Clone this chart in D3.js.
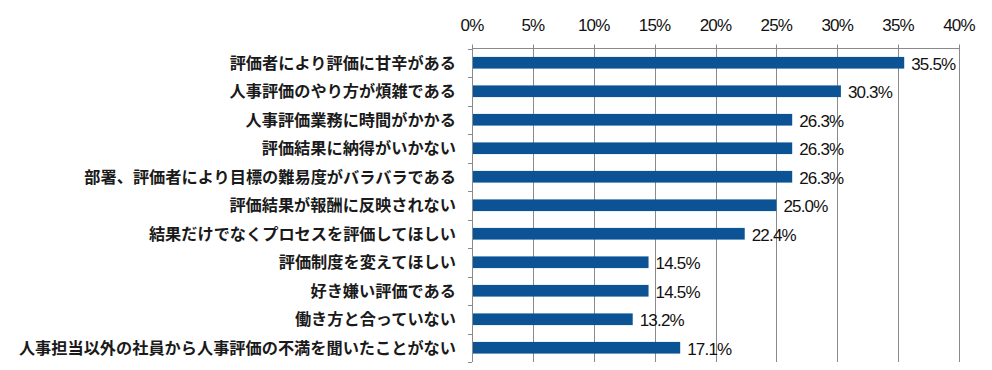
<!DOCTYPE html>
<html>
<head>
<meta charset="utf-8">
<script src="https://cdn.jsdelivr.net/npm/d3@7"></script>
<style>
    body { margin: 0; background: #fff; }
    .cat-label { font-family: "Noto Sans CJK JP", sans-serif; font-size: 16.2px; font-weight: bold; fill: #1a1a1a; }
    .tick-label { font-family: "Liberation Sans", Arial, sans-serif; font-size: 17px; letter-spacing: -0.8px; fill: #111; }
    .value-label { font-family: "Liberation Sans", Arial, sans-serif; font-size: 17px; letter-spacing: -0.8px; fill: #111; }
</style>
</head>
<body>
<div id="chart"></div>
<script>
// survey answers, top to bottom
const categories = [
    "評価者により評価に甘辛がある",
    "人事評価のやり方が煩雑である",
    "人事評価業務に時間がかかる",
    "評価結果に納得がいかない",
    "部署、評価者により目標の難易度がバラバラである",
    "評価結果が報酬に反映されない",
    "結果だけでなくプロセスを評価してほしい",
    "評価制度を変えてほしい",
    "好き嫌い評価である",
    "働き方と合っていない",
    "人事担当以外の社員から人事評価の不満を聞いたことがない"
];
const values = [35.5, 30.3, 26.3, 26.3, 26.3, 25.0, 22.4, 14.5, 14.5, 13.2, 17.1];
const tickValues = [0, 5, 10, 15, 20, 25, 30, 35, 40];

const width = 992;
const height = 370;
const plot = { left: 472, right: 959, top: 48.5, bottom: 362 };

const svg = d3.select("#chart")
    .append("svg")
    .attr("width", width)
    .attr("height", height);

const x = d3.scaleLinear()
    .domain([0, 40])
    .range([plot.left, plot.right]);

const y = d3.scaleBand()
    .domain(categories)
    .range([plot.top, plot.bottom])
    .padding(0);

const barH = y.step() * 0.41;
const gridColor = "#8a8a8a";

// vertical gridlines (extend a little above the top line as tick marks)
svg.append("g")
    .selectAll("line")
    .data(tickValues)
    .enter()
    .append("line")
    .attr("x1", d => Math.round(x(d)) + 0.5)
    .attr("x2", d => Math.round(x(d)) + 0.5)
    .attr("y1", plot.top - 4)
    .attr("y2", plot.bottom)
    .attr("stroke", gridColor)
    .attr("stroke-width", 1);

// top axis line
svg.append("line")
    .attr("x1", plot.left)
    .attr("x2", Math.round(x(40)) + 0.5)
    .attr("y1", plot.top)
    .attr("y2", plot.top)
    .attr("stroke", gridColor);

// top tick labels
svg.append("g")
    .selectAll("text")
    .data(tickValues)
    .enter()
    .append("text")
    .attr("class", "tick-label")
    .attr("x", d => x(d))
    .attr("y", 31)
    .attr("text-anchor", "middle")
    .text(d => d + "%");

// left axis with ticks at category boundaries
const boundaries = categories.map(c => y(c)).concat([plot.bottom]);
svg.append("line")
    .attr("x1", plot.left + 0.5)
    .attr("x2", plot.left + 0.5)
    .attr("y1", plot.top)
    .attr("y2", plot.bottom)
    .attr("stroke", gridColor);

svg.append("g")
    .selectAll("line")
    .data(boundaries)
    .enter()
    .append("line")
    .attr("x1", plot.left - 4)
    .attr("x2", plot.left)
    .attr("y1", d => Math.round(d) + 0.5)
    .attr("y2", d => Math.round(d) + 0.5)
    .attr("stroke", gridColor);

// category labels
svg.append("g")
    .selectAll("text")
    .data(categories)
    .enter()
    .append("text")
    .attr("class", "cat-label")
    .attr("x", 456)
    .attr("y", d => y(d) + y.step() / 2)
    .attr("dy", "0.36em")
    .attr("text-anchor", "end")
    .text(d => d);

// bars
svg.append("g")
    .selectAll("rect")
    .data(values)
    .enter()
    .append("rect")
    .attr("x", plot.left + 1)
    .attr("y", (d, i) => y(categories[i]) + (y.step() - barH) / 2)
    .attr("width", d => x(d) - plot.left - 1)
    .attr("height", barH)
    .attr("fill", "#0b5394");

// value labels
svg.append("g")
    .selectAll("text")
    .data(values)
    .enter()
    .append("text")
    .attr("class", "value-label")
    .attr("x", d => x(d) + 7)
    .attr("y", (d, i) => y(categories[i]) + y.step() / 2 + 1)
    .attr("dy", "0.36em")
    .text(d => d.toFixed(1) + "%");
</script>
</body>
</html>
